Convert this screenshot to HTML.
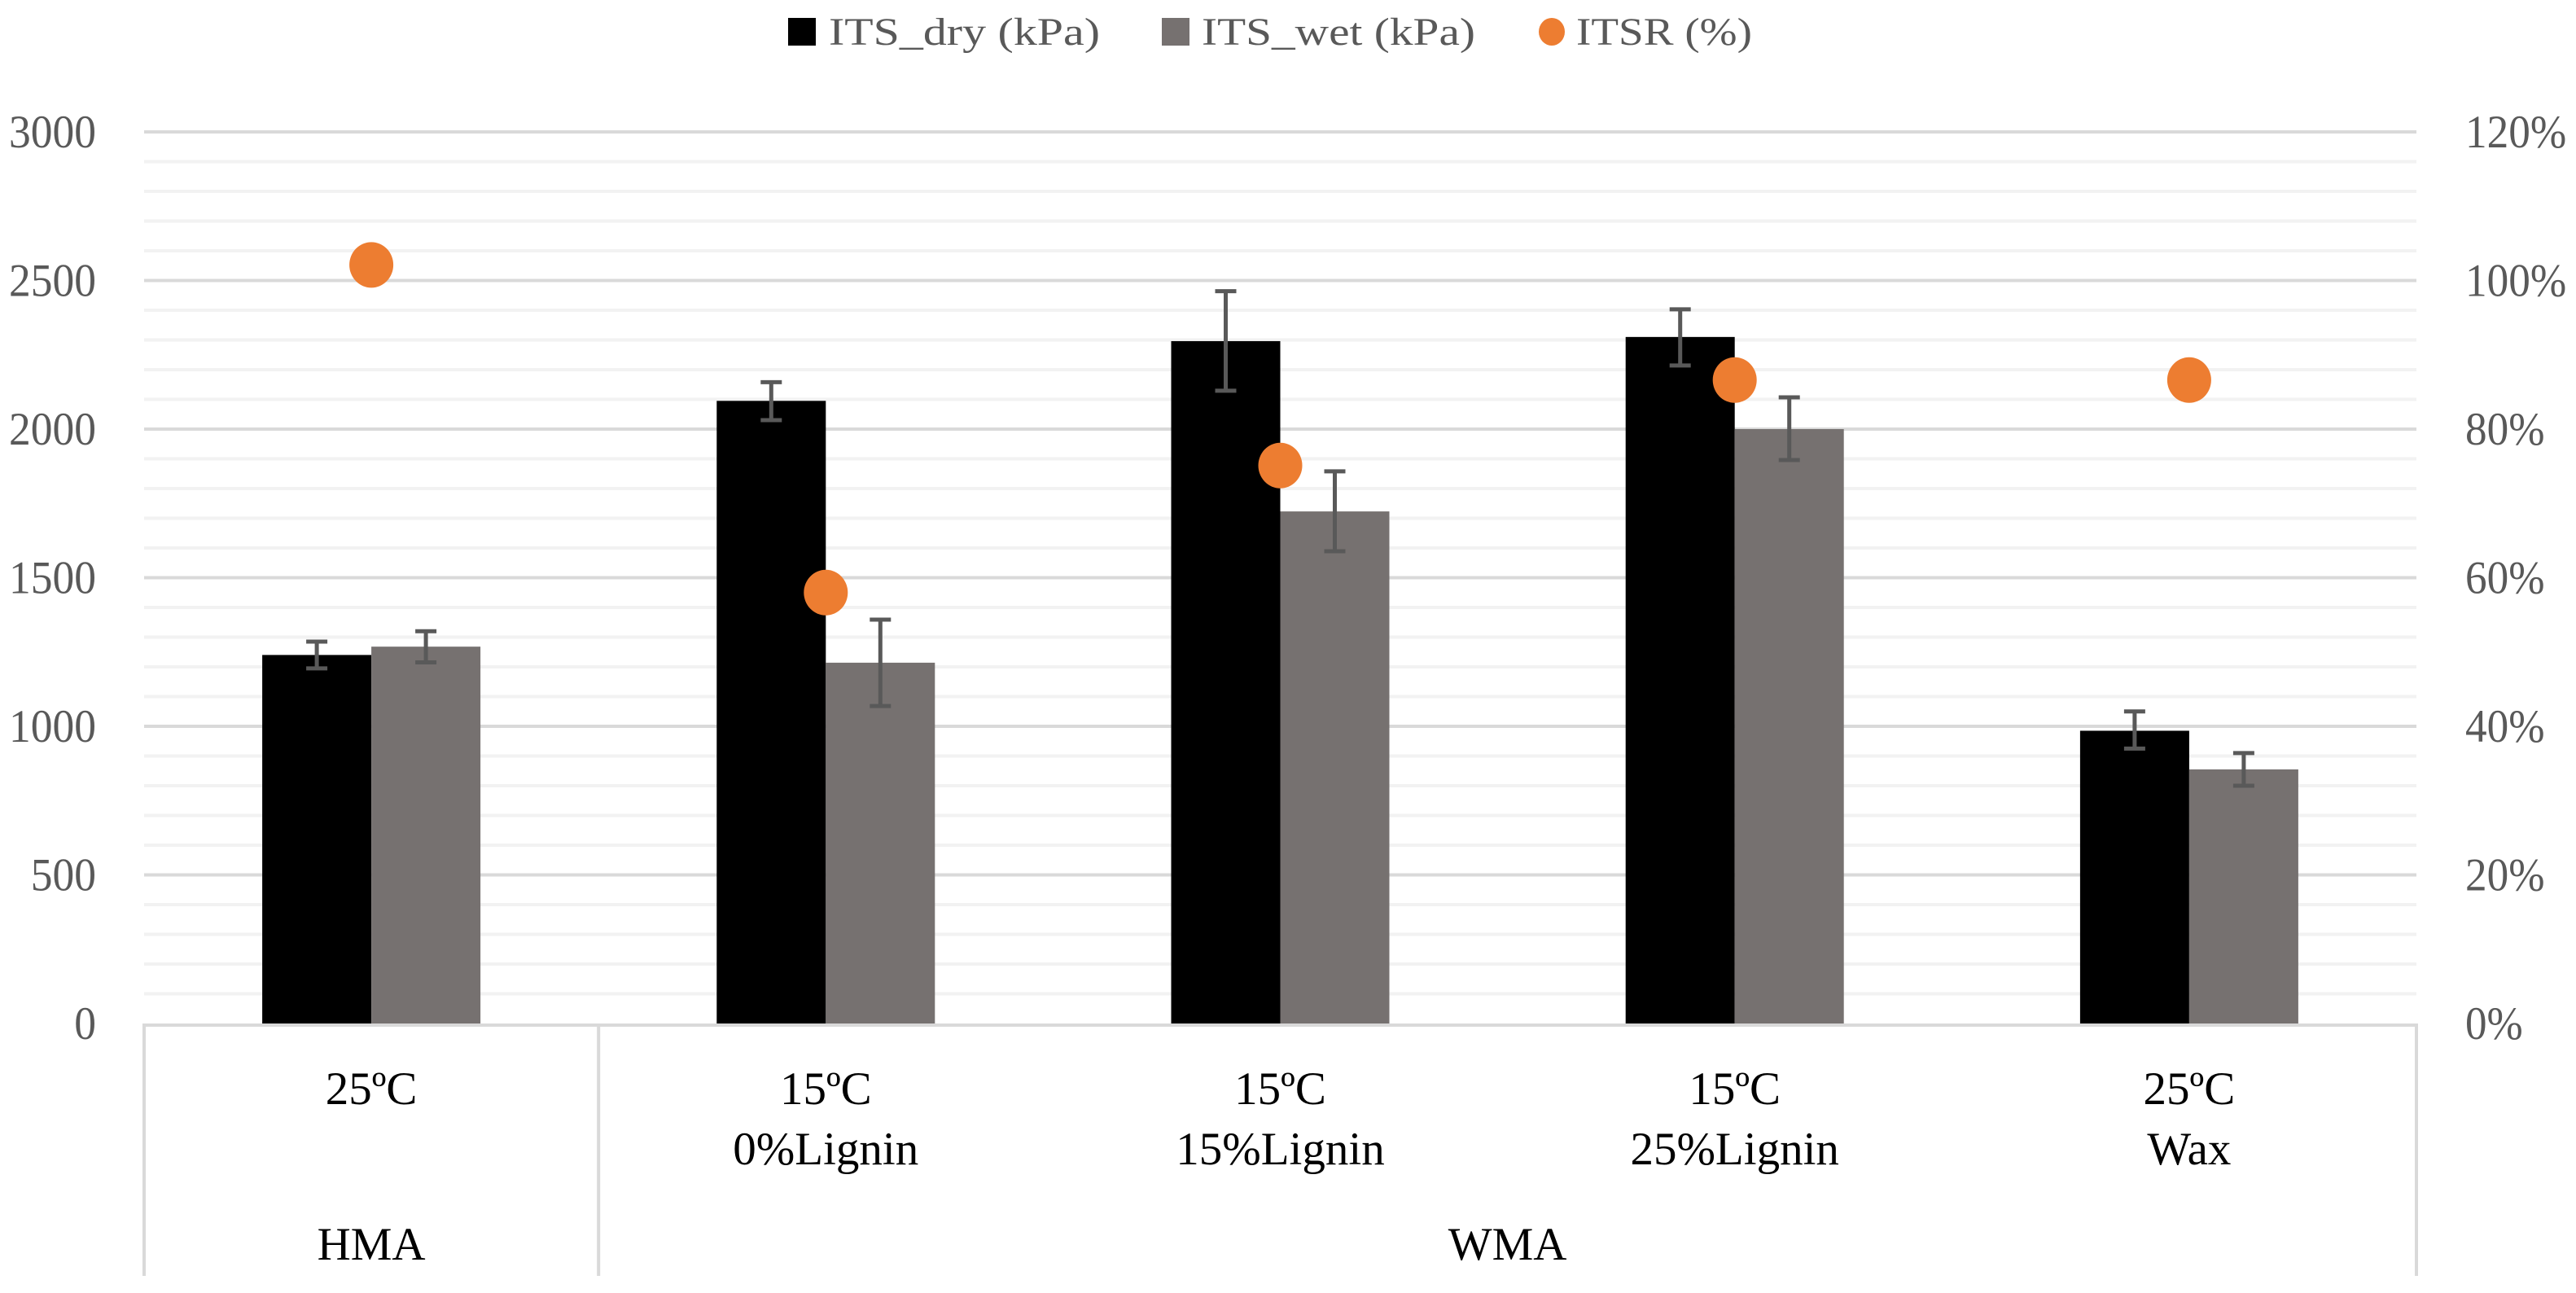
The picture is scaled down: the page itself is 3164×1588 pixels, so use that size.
<!DOCTYPE html>
<html><head><meta charset="utf-8"><style>
html,body{margin:0;padding:0;background:#fff;}
svg{display:block;font-family:"Liberation Serif",serif;}
</style></head><body>
<svg id="chart" width="3164" height="1588" viewBox="0 0 3164 1588" xmlns="http://www.w3.org/2000/svg">
<g id="grid"></g>
<g id="bars"></g>
<g id="errs"></g>
<g id="dots"></g>
<g id="axes"></g>
<g id="legend">
  <rect x="968" y="22" width="34" height="34" fill="#000"/>
  <text x="1018" y="55" font-size="48" fill="#595959" textLength="333" lengthAdjust="spacingAndGlyphs">ITS_dry (kPa)</text>
  <rect x="1427" y="22" width="34" height="34" fill="#767170"/>
  <text x="1476" y="55" font-size="48" fill="#595959" textLength="336" lengthAdjust="spacingAndGlyphs">ITS_wet (kPa)</text>
  <ellipse cx="1906" cy="39" rx="16" ry="17" fill="#ed7d31"/>
  <text x="1936" y="55" font-size="48" fill="#595959" textLength="216" lengthAdjust="spacingAndGlyphs">ITSR (%)</text>
</g>
</svg>
<script>
const categories = ["25ºC", "15ºC|0%Lignin", "15ºC|15%Lignin", "15ºC|25%Lignin", "25ºC|Wax"];
const groups = ["HMA", "WMA"];
const groupSpans = [1, 4];
const dryValues = [1240, 2095, 2296, 2310, 985];
const dryErrLow = [1195, 2030, 2129, 2214, 925];
const dryErrHigh = [1285, 2158, 2464, 2403, 1050];
const wetValues = [1268, 1214, 1723, 2000, 855];
const wetErrLow = [1215, 1068, 1589, 1896, 800];
const wetErrHigh = [1320, 1359, 1858, 2107, 910];
const itsrValues = [102.1, 58.0, 75.1, 86.6, 86.6];
const leftTicks = [0, 500, 1000, 1500, 2000, 2500, 3000];
const rightTicks = [0, 20, 40, 60, 80, 100, 120];

const NS = "http://www.w3.org/2000/svg";
const X0 = 177, X1 = 2968, Y0 = 1257, Y1 = 162;
const catW = (X1 - X0) / categories.length;
const barW = 134;
const yL = v => Y0 - (v / 3000) * (Y0 - Y1);
const yR = v => Y0 - (v / 120) * (Y0 - Y1);
const xC = i => X0 + catW * (i + 0.5);
function mk(tag, attrs, parent) {
  const e = document.createElementNS(NS, tag);
  for (const k in attrs) e.setAttribute(k, attrs[k]);
  parent.appendChild(e);
  return e;
}
const grid = document.getElementById("grid"), bars = document.getElementById("bars"),
  errs = document.getElementById("errs"), dots = document.getElementById("dots"),
  axes = document.getElementById("axes");

for (let v = 100; v < 3000; v += 100) {
  if (v % 500 === 0) continue;
  const l = mk("line", {x1: X0, x2: X1, y1: yL(v), y2: yL(v), stroke: "#f2f2f2", "stroke-width": 4}, grid);
  
  
}
leftTicks.forEach(v => {
  if (v > 0) {
    const l = mk("line", {x1: X0, x2: X1, y1: yL(v), y2: yL(v), stroke: "#d9d9d9", "stroke-width": 4}, grid);
    
    
  }
  const s = String(v);
  const t = mk("text", {x: 118, y: yL(v) + 19, "text-anchor": "end", "font-size": 57, fill: "#595959", textLength: s.length * 26.75, lengthAdjust: "spacingAndGlyphs"}, axes);
  t.textContent = s;
  
  
});
rightTicks.forEach(v => {
  const s = v + "%";
  const t = mk("text", {x: 3028, y: yR(v) + 19, "text-anchor": "start", "font-size": 57, fill: "#595959", textLength: (s.length - 1) * 26.75 + 44, lengthAdjust: "spacingAndGlyphs"}, axes);
  t.textContent = s;
  
  
});

function errBar(x, lo, hi) {
  const g = mk("g", {stroke: "#595959", "stroke-width": 5}, errs);
  
  
  mk("line", {x1: x, x2: x, y1: yL(lo), y2: yL(hi)}, g);
  mk("line", {x1: x - 13, x2: x + 13, y1: yL(lo), y2: yL(lo)}, g);
  mk("line", {x1: x - 13, x2: x + 13, y1: yL(hi), y2: yL(hi)}, g);
}
categories.forEach((c, i) => {
  const cx = xC(i);
  const b1 = mk("rect", {x: cx - barW, y: yL(dryValues[i]), width: barW, height: Y0 - yL(dryValues[i]), fill: "#000"}, bars);
  
  
  const b2 = mk("rect", {x: cx, y: yL(wetValues[i]), width: barW, height: Y0 - yL(wetValues[i]), fill: "#767170"}, bars);
  
  
  errBar(cx - barW / 2, dryErrLow[i], dryErrHigh[i]);
  errBar(cx + barW / 2, wetErrLow[i], wetErrHigh[i]);
  const d = mk("ellipse", {cx: cx, cy: yR(itsrValues[i]), rx: 27, ry: 28, fill: "#ed7d31"}, dots);
  
  
  c.split("|").forEach((ln, k) => {
    const t = mk("text", {x: cx, y: 1356 + k * 74, "text-anchor": "middle", "font-size": 57, fill: "#000"}, axes);
    t.textContent = ln;
    
    
  });
});
const ax = mk("line", {x1: X0 - 2, x2: X1 + 2, y1: Y0 + 2, y2: Y0 + 2, stroke: "#d9d9d9", "stroke-width": 4}, axes);


let start = 0;
const seps = [0];
groupSpans.forEach(s => { start += s; seps.push(start); });
seps.forEach(s => {
  const x = X0 + s * catW;
  const l = mk("line", {x1: x, x2: x, y1: Y0, y2: 1567, stroke: "#d9d9d9", "stroke-width": 4}, axes);
  
  
});
groups.forEach((g, i) => {
  const x = X0 + (seps[i] + seps[i + 1]) / 2 * catW;
  const t = mk("text", {x: x, y: 1547, "text-anchor": "middle", "font-size": 57, fill: "#000"}, axes);
  t.textContent = g;
  
  
});
</script>
</body></html>
